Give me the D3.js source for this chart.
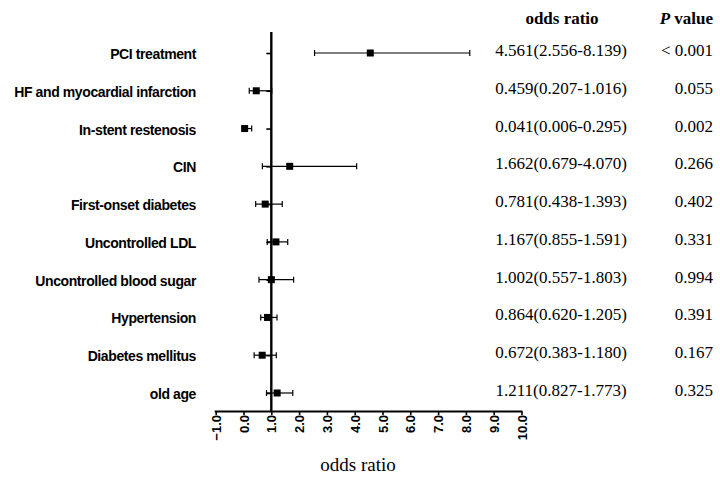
<!DOCTYPE html>
<html>
<head>
<meta charset="utf-8">
<script src="https://cdn.jsdelivr.net/npm/d3@7"></script>
<style>
  body { margin: 0; background: #fff; }
  svg { display: block; }
</style>
</head>
<body>
<div id="chart"></div>
<script>
// data
var factors = ["PCI treatment", "HF and myocardial infarction", "In-stent restenosis", "CIN",
  "First-onset diabetes", "Uncontrolled LDL", "Uncontrolled blood sugar", "Hypertension",
  "Diabetes mellitus", "old age"];
var oddsRatio = [4.561, 0.459, 0.041, 1.662, 0.781, 1.167, 1.002, 0.864, 0.672, 1.211];
var lower = [2.556, 0.207, 0.006, 0.679, 0.438, 0.855, 0.557, 0.620, 0.383, 0.827];
var upper = [8.139, 1.016, 0.295, 4.070, 1.393, 1.591, 1.803, 1.205, 1.180, 1.773];
var pValues = ["< 0.001", "0.055", "0.002", "0.266", "0.402", "0.331", "0.994", "0.391", "0.167", "0.325"];
var xTicks = [-1, 0, 1, 2, 3, 4, 5, 6, 7, 8, 9, 10];

var width = 720, height = 479;

var data = factors.map(function (f, i) {
  return { name: f, or: oddsRatio[i], lo: lower[i], hi: upper[i], p: pValues[i] };
});

var svg = d3.select("#chart").append("svg")
  .attr("width", width)
  .attr("height", height);

var x = d3.scaleLinear().domain([-1, 10]).range([215.7, 521.5]);
var y = d3.scalePoint().domain(factors).range([53, 393]);

var axisY = 411.5;

// x axis
var xAxis = svg.append("g")
  .attr("transform", "translate(0," + axisY + ")")
  .call(d3.axisBottom(x).tickValues(xTicks).tickSize(3.5).tickSizeOuter(0)
    .tickFormat(d3.format(".1f")));
xAxis.select(".domain").attr("stroke-width", 2.2).attr("d", "M" + (x(-1) - 1) + ",0H" + (x(10) + 1));
xAxis.selectAll(".tick line").attr("stroke-width", 1.6);
xAxis.selectAll(".tick text")
  .attr("transform", "rotate(-90)")
  .attr("x", -3.5)
  .attr("y", 0)
  .attr("dy", "0.35em")
  .style("text-anchor", "end")
  .style("font-family", "Liberation Sans, Arial, sans-serif")
  .style("font-size", "13px")
  .style("font-weight", "bold")
  .attr("fill", "#000");

// y axis (reference line at odds ratio 1)
var yAxis = svg.append("g")
  .attr("transform", "translate(" + x(1) + ",0)")
  .call(d3.axisLeft(y).tickSize(5).tickSizeOuter(0).tickFormat(""));
yAxis.select(".domain").remove();
yAxis.selectAll(".tick line").attr("stroke-width", 1.6);
svg.append("line")
  .attr("x1", x(1)).attr("x2", x(1))
  .attr("y1", 32).attr("y2", axisY)
  .attr("stroke", "#000")
  .attr("stroke-width", 2.4);

// factor labels
svg.append("g").selectAll("text")
  .data(data).enter().append("text")
  .attr("x", 196)
  .attr("y", function (d) { return y(d.name) + 6; })
  .attr("text-anchor", "end")
  .style("font-family", "Liberation Sans, Arial, sans-serif")
  .style("font-size", "14px")
  .style("font-weight", "bold")
  .style("letter-spacing", "-0.4px")
  .text(function (d) { return d.name; });

// confidence intervals
var rows = svg.append("g").selectAll("g")
  .data(data).enter().append("g");

rows.append("line")
  .attr("x1", function (d) { return x(d.lo); })
  .attr("x2", function (d) { return x(d.hi); })
  .attr("y1", function (d) { return y(d.name); })
  .attr("y2", function (d) { return y(d.name); })
  .attr("stroke", "#000")
  .attr("stroke-width", 1.2);

rows.append("line")
  .attr("x1", function (d) { return x(d.lo); })
  .attr("x2", function (d) { return x(d.lo); })
  .attr("y1", function (d) { return y(d.name) - 3; })
  .attr("y2", function (d) { return y(d.name) + 3; })
  .attr("stroke", "#000")
  .attr("stroke-width", 1.2);

rows.append("line")
  .attr("x1", function (d) { return x(d.hi); })
  .attr("x2", function (d) { return x(d.hi); })
  .attr("y1", function (d) { return y(d.name) - 3; })
  .attr("y2", function (d) { return y(d.name) + 3; })
  .attr("stroke", "#000")
  .attr("stroke-width", 1.2);

rows.append("rect")
  .attr("x", function (d) { return x(d.or) - 3.5; })
  .attr("y", function (d) { return y(d.name) - 3.5; })
  .attr("width", 7)
  .attr("height", 7)
  .attr("fill", "#000");

// right hand table
var serif = "Liberation Serif, Times New Roman, serif";

svg.append("text")
  .attr("x", 562).attr("y", 24)
  .attr("text-anchor", "middle")
  .style("font-family", serif)
  .style("font-size", "17px")
  .style("font-weight", "bold")
  .text("odds ratio");

var ph = svg.append("text")
  .attr("x", 713).attr("y", 24)
  .attr("text-anchor", "end")
  .style("font-family", serif)
  .style("font-size", "17px")
  .style("font-weight", "bold");
ph.append("tspan").style("font-style", "italic").text("P");
ph.append("tspan").text(" value");

svg.append("g").selectAll("text")
  .data(data).enter().append("text")
  .attr("x", 561)
  .attr("y", function (d) { return y(d.name) + 3; })
  .attr("text-anchor", "middle")
  .style("font-family", serif)
  .style("font-size", "17px")
  .text(function (d) {
    return d.or.toFixed(3) + "(" + d.lo.toFixed(3) + "-" + d.hi.toFixed(3) + ")";
  });

svg.append("g").selectAll("text")
  .data(data).enter().append("text")
  .attr("x", 713)
  .attr("y", function (d) { return y(d.name) + 3; })
  .attr("text-anchor", "end")
  .style("font-family", serif)
  .style("font-size", "17px")
  .text(function (d) { return d.p; });

// x axis title
svg.append("text")
  .attr("x", 358).attr("y", 471)
  .attr("text-anchor", "middle")
  .style("font-family", serif)
  .style("font-size", "19px")
  .text("odds ratio");
</script>
</body>
</html>
